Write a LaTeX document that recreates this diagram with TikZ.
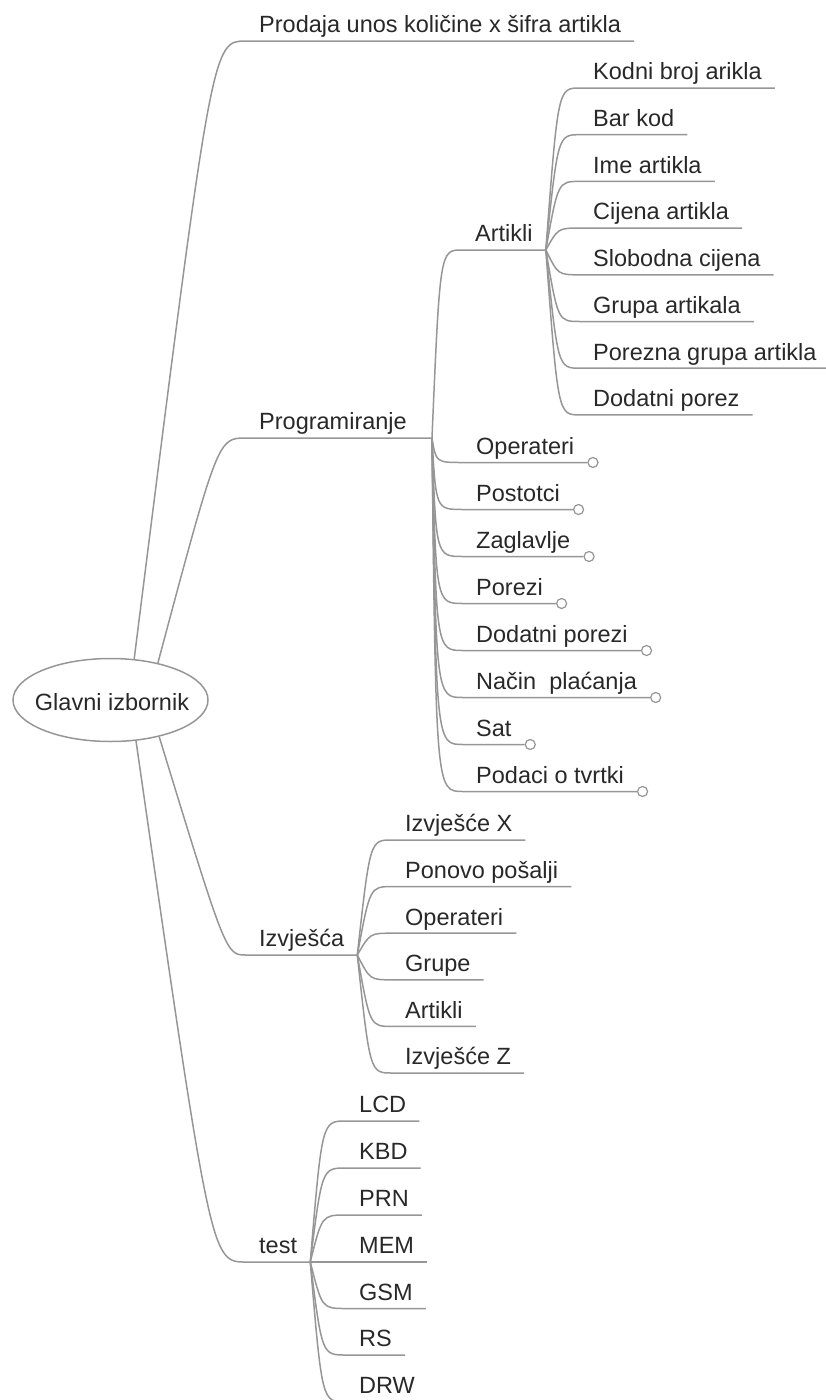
\documentclass[tikz,border=0pt]{standalone}
\usepackage{fontspec}
\setmainfont{Liberation Sans}
\usepackage{tikz}
\usetikzlibrary{shapes.geometric, positioning, calc}
\definecolor{linkgray}{RGB}{150, 150, 150}
\definecolor{textgray}{RGB}{40, 40, 40}

\begin{document}
\begin{tikzpicture}[
    x=1pt, y=-1pt,
    every node/.style={font=\fontsize{23.5}{28}\selectfont, text=textgray},
    topic/.style={anchor=south west, inner xsep=13pt, inner ysep=3pt, text height=17pt, text depth=5pt},
    root/.style={ellipse, draw=linkgray, line width=1.5pt, minimum width=195pt, minimum height=83pt, inner sep=0pt},
    link/.style={draw=linkgray, line width=1.5pt},
    fold/.style={circle, draw=linkgray, fill=white, line width=1.2pt, minimum size=10pt, inner sep=0pt}
]
\useasboundingbox (0,0) rectangle (826,1400);

% Root
\node[root] (root) at (110.5,700) {};
\node[anchor=base] (roottext) at (112,710) {Glavni izbornik};

% Main branches
\node[topic] (prod) at (246,41) {Prodaja unos količine x šifra artikla};
\node[topic] (prog) at (246,438) {Programiranje};
\node[topic] (izv) at (246,955) {Izvješća};
\node[topic] (test) at (246,1262) {test};

% Programiranje
\node[topic] (art) at (462,250) {Artikli};
\node[topic] (oper) at (463,462.5) {Operateri};
\node[topic] (post) at (463,509.5) {Postotci};
\node[topic] (zagl) at (463,556.5) {Zaglavlje};
\node[topic] (porezi) at (463,603.5) {Porezi};
\node[topic] (dodporezi) at (463,650.5) {Dodatni porezi};
\node[topic] (nacin) at (463,697.5) {Način\ \ plaćanja};
\node[topic] (sat) at (463,744.5) {Sat};
\node[topic] (podaci) at (463,791.5) {Podaci o tvrtki};

% Artikli
\node[topic] (kodni) at (580,88) {Kodni broj arikla};
\node[topic] (barkod) at (580,134.7) {Bar kod};
\node[topic] (ime) at (580,181.4) {Ime artikla};
\node[topic] (cijena) at (580,228.1) {Cijena artikla};
\node[topic] (slobodna) at (580,274.8) {Slobodna cijena};
\node[topic] (grupa) at (580,321.5) {Grupa artikala};
\node[topic] (porgrupa) at (580,368.2) {Porezna grupa artikla};
\node[topic] (dodporez) at (580,414.9) {Dodatni porez};

% Izvjesca
\node[topic] (izvx) at (392,840) {Izvješće X};
\node[topic] (ponovo) at (392,886.6) {Ponovo pošalji};
\node[topic] (izvoper) at (392,933.2) {Operateri};
\node[topic] (grupe) at (392,979.8) {Grupe};
\node[topic] (izvart) at (392,1026.4) {Artikli};
\node[topic] (izvz) at (392,1073) {Izvješće Z};

% test
\node[topic] (lcd) at (346,1121) {LCD};
\node[topic] (kbd) at (346,1168) {KBD};
\node[topic] (prn) at (346,1215) {PRN};
\node[topic] (mem) at (346,1262) {MEM};
\node[topic] (gsm) at (346,1308.5) {GSM};
\node[topic] (rs) at (346,1355) {RS};
\node[topic] (drw) at (346,1402) {DRW};

% Links from root
\draw[link] (root.60) .. controls ($(prod.south west)+(-34,0)$) .. (prod.south west) -- (prod.south east);
\coordinate (progjn) at ($(prog.south east)+(12,0)$);
\draw[link] (root.38) .. controls ($(prog.south west)+(-28,0)$) .. (prog.south west) -- (progjn);
\draw[link] (root.-37) .. controls ($(izv.south west)+(-20,0)$) .. (izv.south west) -- (izv.south east);
\draw[link] (root.-58) .. controls ($(test.south west)+(-35,0)$) .. (test.south west) -- (test.south east);

% Links from Programiranje
\draw[link] (progjn) .. controls ($(art.south west)+(-22,0)$) .. (art.south west) -- (art.south east);
\draw[link] (progjn) .. controls ($(oper.south west)+(-27,0)$) .. (oper.south west) -- (oper.south east);
\draw[link] (progjn) .. controls ($(post.south west)+(-27,0)$) .. (post.south west) -- (post.south east);
\draw[link] (progjn) .. controls ($(zagl.south west)+(-27,0)$) .. (zagl.south west) -- (zagl.south east);
\draw[link] (progjn) .. controls ($(porezi.south west)+(-27,0)$) .. (porezi.south west) -- (porezi.south east);
\draw[link] (progjn) .. controls ($(dodporezi.south west)+(-27,0)$) .. (dodporezi.south west) -- (dodporezi.south east);
\draw[link] (progjn) .. controls ($(nacin.south west)+(-27,0)$) .. (nacin.south west) -- (nacin.south east);
\draw[link] (progjn) .. controls ($(sat.south west)+(-27,0)$) .. (sat.south west) -- (sat.south east);
\draw[link] (progjn) .. controls ($(podaci.south west)+(-27,0)$) .. (podaci.south west) -- (podaci.south east);

% Folded markers
\node[fold, right=0pt of oper.south east] (operfold) {};
\node[fold, right=0pt of post.south east] (postfold) {};
\node[fold, right=0pt of zagl.south east] (zaglfold) {};
\node[fold, right=0pt of porezi.south east] (porezifold) {};
\node[fold, right=0pt of dodporezi.south east] (dodporezifold) {};
\node[fold, right=0pt of nacin.south east] (nacinfold) {};
\node[fold, right=0pt of sat.south east] (satfold) {};
\node[fold, right=0pt of podaci.south east] (podacifold) {};

% Links from Artikli
\draw[link] (art.south east) .. controls ($(kodni.south west)+(-22,0)$) .. (kodni.south west) -- (kodni.south east);
\draw[link] (art.south east) .. controls ($(barkod.south west)+(-22,0)$) .. (barkod.south west) -- (barkod.south east);
\draw[link] (art.south east) .. controls ($(ime.south west)+(-22,0)$) .. (ime.south west) -- (ime.south east);
\draw[link] (art.south east) .. controls ($(cijena.south west)+(-22,0)$) .. (cijena.south west) -- (cijena.south east);
\draw[link] (art.south east) .. controls ($(slobodna.south west)+(-22,0)$) .. (slobodna.south west) -- (slobodna.south east);
\draw[link] (art.south east) .. controls ($(grupa.south west)+(-22,0)$) .. (grupa.south west) -- (grupa.south east);
\draw[link] (art.south east) .. controls ($(porgrupa.south west)+(-22,0)$) .. (porgrupa.south west) -- (porgrupa.south east);
\draw[link] (art.south east) .. controls ($(dodporez.south west)+(-22,0)$) .. (dodporez.south west) -- (dodporez.south east);

% Links from Izvjesca
\draw[link] (izv.south east) .. controls ($(izvx.south west)+(-22,0)$) .. (izvx.south west) -- (izvx.south east);
\draw[link] (izv.south east) .. controls ($(ponovo.south west)+(-22,0)$) .. (ponovo.south west) -- (ponovo.south east);
\draw[link] (izv.south east) .. controls ($(izvoper.south west)+(-22,0)$) .. (izvoper.south west) -- (izvoper.south east);
\draw[link] (izv.south east) .. controls ($(grupe.south west)+(-22,0)$) .. (grupe.south west) -- (grupe.south east);
\draw[link] (izv.south east) .. controls ($(izvart.south west)+(-22,0)$) .. (izvart.south west) -- (izvart.south east);
\draw[link] (izv.south east) .. controls ($(izvz.south west)+(-22,0)$) .. (izvz.south west) -- (izvz.south east);

% Links from test
\draw[link] (test.south east) .. controls ($(lcd.south west)+(-24,0)$) .. (lcd.south west) -- (lcd.south east);
\draw[link] (test.south east) .. controls ($(kbd.south west)+(-24,0)$) .. (kbd.south west) -- (kbd.south east);
\draw[link] (test.south east) .. controls ($(prn.south west)+(-24,0)$) .. (prn.south west) -- (prn.south east);
\draw[link] (test.south east) .. controls ($(mem.south west)+(-24,0)$) .. (mem.south west) -- (mem.south east);
\draw[link] (test.south east) .. controls ($(gsm.south west)+(-24,0)$) .. (gsm.south west) -- (gsm.south east);
\draw[link] (test.south east) .. controls ($(rs.south west)+(-24,0)$) .. (rs.south west) -- (rs.south east);
\draw[link] (test.south east) .. controls ($(drw.south west)+(-24,0)$) .. (drw.south west) -- (drw.south east);

\end{tikzpicture}
\end{document}
